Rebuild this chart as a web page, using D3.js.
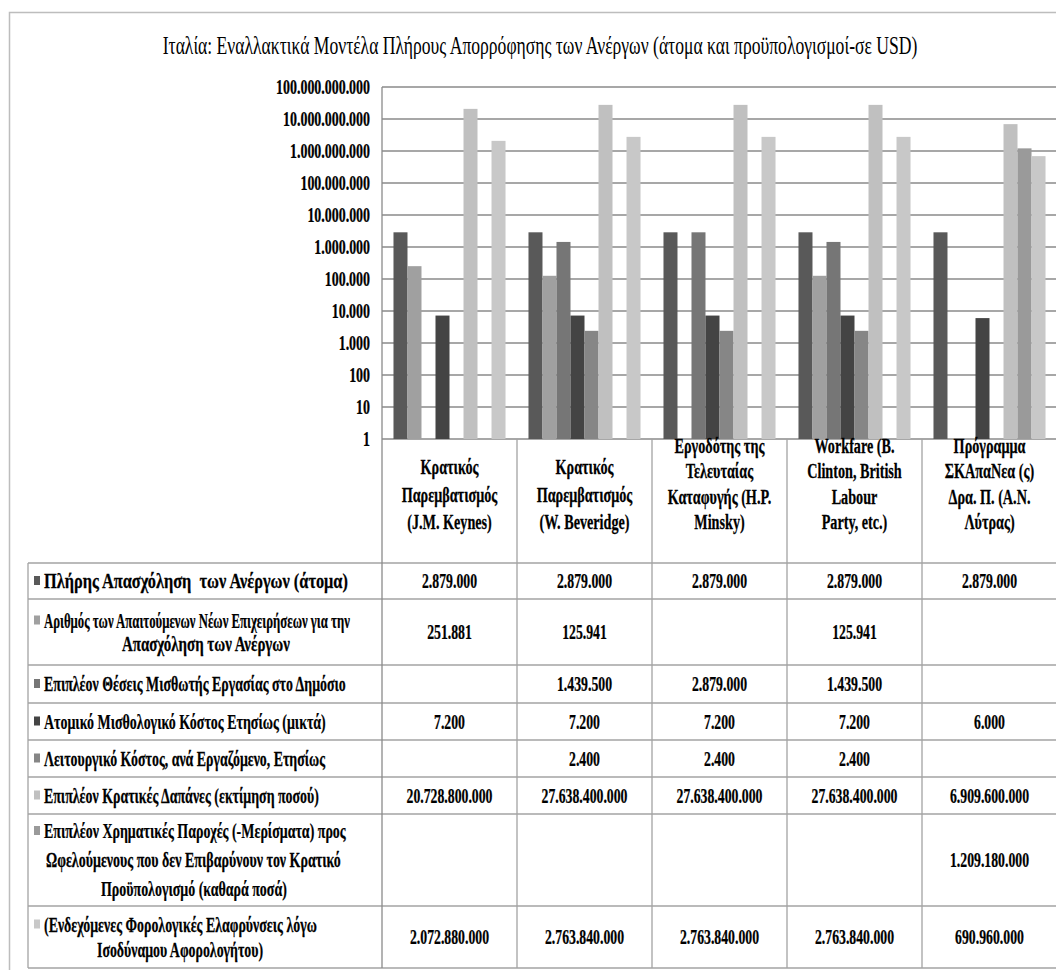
<!DOCTYPE html>
<html>
<head>
<meta charset="utf-8">
<script src="https://cdn.jsdelivr.net/npm/d3@7"></script>
<style>
  body { margin: 0; background: #fff; }
  svg { display: block; }
  svg text { font-family: "Liberation Serif", "Times New Roman", serif; }
</style>
</head>
<body>
<div id="chart"></div>
<script>
// chart data
const title = "Ιταλία: Εναλλακτικά Μοντέλα Πλήρους Απορρόφησης των Ανέργων (άτομα και προϋπολογισμοί-σε USD)";

const categories = [
	"Κρατικός\nΠαρεμβατισμός\n(J.M. Keynes)",
	"Κρατικός\nΠαρεμβατισμός\n(W. Beveridge)",
	"Εργοδότης της\nΤελευταίας\nΚαταφυγής (H.P.\nMinsky)",
	"Workfare (B.\nClinton, British\nLabour\nParty, etc.)",
	"Πρόγραμμα\nΣΚΑπαΝεα (ς)\nΔρα. Π. (Α.Ν.\nΛύτρας)"
];

const seriesNames = [
	"Πλήρης Απασχόληση  των Ανέργων (άτομα)",
	"Αριθμός των Απαιτούμενων Νέων Επιχειρήσεων για την\nΑπασχόληση των Ανέργων",
	"Επιπλέον Θέσεις Μισθωτής Εργασίας στο Δημόσιο",
	"Ατομικό Μισθολογικό Κόστος Ετησίως (μικτά)",
	"Λειτουργικό Κόστος, ανά Εργαζόμενο, Ετησίως",
	"Επιπλέον Κρατικές Δαπάνες (εκτίμηση ποσού)",
	"Επιπλέον Χρηματικές Παροχές (-Μερίσματα) προς\nΩφελούμενους που δεν Επιβαρύνουν τον Κρατικό\nΠροϋπολογισμό (καθαρά ποσά)",
	"(Ενδεχόμενες Φορολογικές Ελαφρύνσεις λόγω\nΙσοδύναμου Αφορολογήτου)"
];

const fullEmployment   = [2879000, 2879000, 2879000, 2879000, 2879000];
const newFirms         = [251881, 125941, null, 125941, null];
const publicJobs       = [null, 1439500, 2879000, 1439500, null];
const wageCost         = [7200, 7200, 7200, 7200, 6000];
const operatingCost    = [null, 2400, 2400, 2400, null];
const stateSpending    = [20728800000, 27638400000, 27638400000, 27638400000, 6909600000];
const dividends        = [null, null, null, null, 1209180000];
const taxRelief        = [2072880000, 2763840000, 2763840000, 2763840000, 690960000];

const seriesValues = [fullEmployment, newFirms, publicJobs, wageCost, operatingCost, stateSpending, dividends, taxRelief];
const seriesColors = ["#595959", "#a0a0a0", "#767676", "#444444", "#868686", "#c0c0c0", "#9a9a9a", "#c8c8c8"];

const tickValues = [1, 10, 100, 1e3, 1e4, 1e5, 1e6, 1e7, 1e8, 1e9, 1e10, 1e11];

// layout
const W = 1056, H = 970;
const plot = {left: 382, right: 1057, top: 87, bottom: 439};
const tableLeft = 28;
const headerBottom = 563;
const rowHeights = [36, 66, 38, 37, 37, 37, 92, 62];
// horizontal extent of each legend text line, as it is squeezed in the picture
const legendLineBoxes = [
	[[44, 348]],
	[[44, 350], [122, 290]],
	[[44, 346]],
	[[44, 326]],
	[[44, 325]],
	[[44, 319]],
	[[44, 346], [46, 341], [101, 287]],
	[[44, 317], [97, 263]]
];
const legendLineGap = [25, 23, 25, 25, 25, 25, 29, 25];
const gridColor = "#8a8a8a";
const tableColor = "#a3a3a3";

const grFormat = d3.formatLocale({decimal: ",", thousands: ".", grouping: [3], currency: ["", ""]}).format(",d");

const svg = d3.select("#chart").append("svg")
	.attr("width", W)
	.attr("height", H);

svg.append("rect").attr("width", W).attr("height", H).attr("fill", "#fff");

//outer chart frame
svg.append("rect")
	.attr("x", 9.5).attr("y", 12.5)
	.attr("width", W + 20).attr("height", H + 20)
	.attr("fill", "none")
	.attr("stroke", "#bdbdbd")
	.attr("stroke-width", 1.5);

const measure = function (str, size, weight) {
	const t = svg.append("text")
		.attr("font-size", size)
		.attr("font-weight", weight)
		.style("white-space", "pre")
		.text(str);
	const w = t.node().getComputedTextLength();
	t.remove();
	return w;
};

// the reference text is squeezed horizontally, fit a scale per text kind
const sxTitle = 755 / measure(title, 26, "normal");
const sxAxis = 94 / measure("100.000.000.000", 20, "bold");
const sxVal = 86 / measure("27.638.400.000", 21, "bold");
const sxHead = 90 / measure("(W. Beveridge)", 20, "bold");

const put = function (x, y, str, size, weight, sx, anchor) {
	const t = svg.append("text")
		.attr("transform", "translate(" + x + "," + y + ") scale(" + sx + ",1)")
		.attr("text-anchor", anchor)
		.attr("dy", "0.35em")
		.attr("font-size", size)
		.attr("font-weight", weight)
		.attr("fill", "#000")
		.style("white-space", "pre")
		.text(str);
	if (weight === "bold") t.attr("stroke", "#000").attr("stroke-width", 0.25);
	return t;
};

//Title
put(540, 45, title, 26, "normal", sxTitle, "middle");

//Scales
const x0 = d3.scaleBand()
	.domain(d3.range(categories.length))
	.range([plot.left, plot.right]);
const x1 = d3.scaleBand()
	.domain(d3.range(seriesNames.length))
	.range([0, x0.bandwidth()])
	.paddingInner(0)
	.paddingOuter(0.82);
const y = d3.scaleLog()
	.domain([1, 1e11])
	.range([plot.bottom, plot.top]);

//Gridlines
svg.append("g")
	.selectAll("line")
	.data(tickValues)
	.enter()
	.append("line")
	.attr("x1", plot.left)
	.attr("x2", plot.right)
	.attr("y1", d => y(d))
	.attr("y2", d => y(d))
	.attr("stroke", gridColor)
	.attr("stroke-width", 1.4);

//Y axis labels
const yAxis = svg.append("g")
	.attr("transform", "translate(370,0)")
	.call(d3.axisLeft(y).tickValues(tickValues).tickFormat(grFormat).tickSize(0).tickPadding(0));
yAxis.select(".domain").remove();
yAxis.attr("font-family", null);
yAxis.selectAll("text")
	.attr("font-size", 20)
	.attr("font-weight", "bold")
	.attr("fill", "#000")
	.attr("stroke", "#000")
	.attr("stroke-width", 0.25)
	.attr("x", 0)
	.attr("transform", "scale(" + sxAxis + ",1)");

//Bars
seriesValues.forEach(function (vals, s) {
	svg.append("g")
		.selectAll("rect")
		.data(vals.map((v, i) => ({i: i, v: v})).filter(d => d.v != null))
		.enter()
		.append("rect")
		.attr("x", d => x0(d.i) + x1(s))
		.attr("y", d => y(d.v))
		.attr("width", x1.bandwidth())
		.attr("height", d => y(1) - y(d.v))
		.attr("fill", seriesColors[s]);
});

//Data table
const rowTops = [headerBottom];
rowHeights.forEach(h => rowTops.push(rowTops[rowTops.length - 1] + h));
const tableBottom = rowTops[rowTops.length - 1];

const lines = svg.append("g")
	.attr("stroke", tableColor)
	.attr("stroke-width", 1.3);

rowTops.forEach(function (ty) {
	lines.append("line")
		.attr("x1", tableLeft).attr("x2", plot.right)
		.attr("y1", ty).attr("y2", ty);
});
lines.append("line")
	.attr("x1", tableLeft).attr("x2", tableLeft)
	.attr("y1", headerBottom).attr("y2", tableBottom);
d3.range(categories.length + 1).forEach(function (i) {
	const bx = i < categories.length ? x0(i) : plot.right;
	lines.append("line")
		.attr("x1", bx).attr("x2", bx)
		.attr("y1", i === 0 ? plot.top : plot.bottom)
		.attr("y2", tableBottom)
		.attr("stroke", i === 0 ? gridColor : tableColor);
});

//Category headers, bottom aligned
categories.forEach(function (c, i) {
	const parts = c.split("\n");
	const cx = x0(i) + x0.bandwidth() / 2;
	const step = parts.length > 3 ? 25.5 : 27.5;
	parts.forEach(function (p, k) {
		put(cx, 522 - (parts.length - 1 - k) * step, p, 20, "bold", sxHead, "middle");
	});
});

//Legend cells and values
seriesNames.forEach(function (name, s) {
	const top = rowTops[s], h = rowHeights[s];
	const mid = top + h / 2;
	const parts = name.split("\n");
	const lh = legendLineGap[s];
	const first = mid - (parts.length - 1) * lh / 2;

	svg.append("rect")
		.attr("x", 34)
		.attr("y", first - 5)
		.attr("width", 6)
		.attr("height", 9)
		.attr("fill", seriesColors[s]);

	parts.forEach(function (p, k) {
		const box = legendLineBoxes[s][k];
		const sx = (box[1] - box[0]) / measure(p, 21, "bold");
		put(box[0], first + k * lh, p, 21, "bold", sx, "start");
	});

	seriesValues[s].forEach(function (v, i) {
		if (v == null) return;
		put(x0(i) + x0.bandwidth() / 2, mid, grFormat(v), 21, "bold", sxVal, "middle");
	});
});
</script>
</body>
</html>
